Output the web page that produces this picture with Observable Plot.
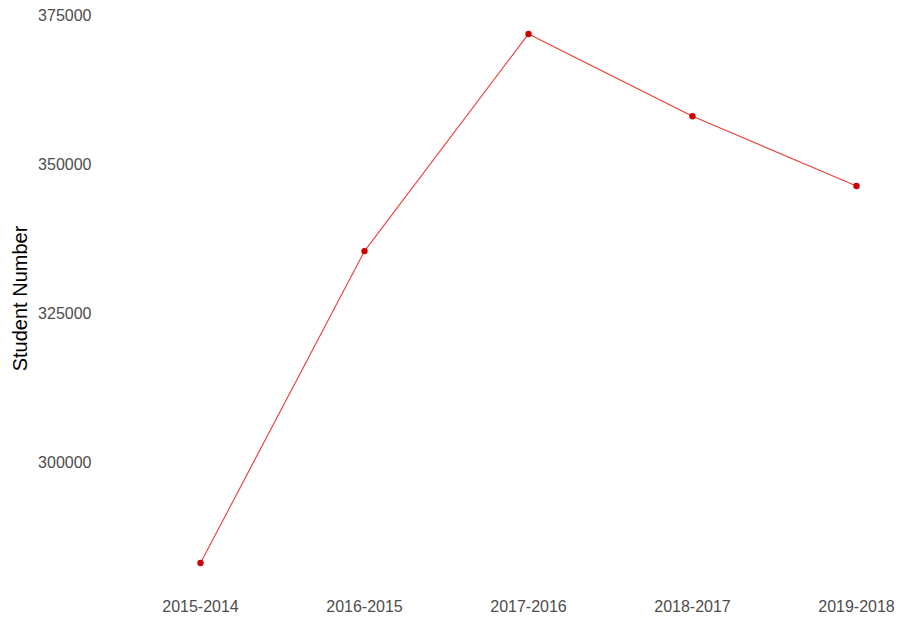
<!DOCTYPE html>
<html>
<head>
<meta charset="utf-8">
<script src="https://cdn.jsdelivr.net/npm/d3@7"></script>
<script src="https://cdn.jsdelivr.net/npm/@observablehq/plot@0.6"></script>
<style>
  html, body { margin: 0; padding: 0; background: #fff; }
</style>
</head>
<body>
<div id="chart"></div>
<script>
const years = ["2015-2014", "2016-2015", "2017-2016", "2018-2017", "2019-2018"];
const students = [283200, 335500, 371900, 358100, 346400];
const yTicks = [300000, 325000, 350000, 375000];

const data = years.map((y, i) => ({year: y, students: students[i]}));

const chart = Plot.plot({
  width: 900,
  height: 618,
  marginTop: 7,
  marginBottom: 29,
  marginLeft: 100,
  marginRight: 0,
  style: {fontFamily: "'Liberation Sans', Arial, sans-serif", fontSize: "16px", background: "#fff"},
  x: {type: "point", domain: years, range: [200, 856], padding: 0},
  y: {domain: [278765, 376335]},
  marks: [
    Plot.axisX({tickSize: 0, tickPadding: 11, label: null, color: "#4d4d4d", fontSize: 16}),
    Plot.axisY({ticks: yTicks, tickFormat: d => String(d), tickSize: 0, tickPadding: 9, color: "#4d4d4d", fontSize: 16, label: null}),
    Plot.text(["Student Number"], {frameAnchor: "left", textAnchor: "middle", rotate: -90, dx: -80, fontSize: 20, fill: "#000"}),
    Plot.line(data, {x: "year", y: "students", stroke: "#e8403a", strokeWidth: 1.1}),
    Plot.dot(data, {x: "year", y: "students", r: 3.2, fill: "#cc0000", stroke: "none"})
  ]
});
document.getElementById("chart").appendChild(chart);
</script>
</body>
</html>
